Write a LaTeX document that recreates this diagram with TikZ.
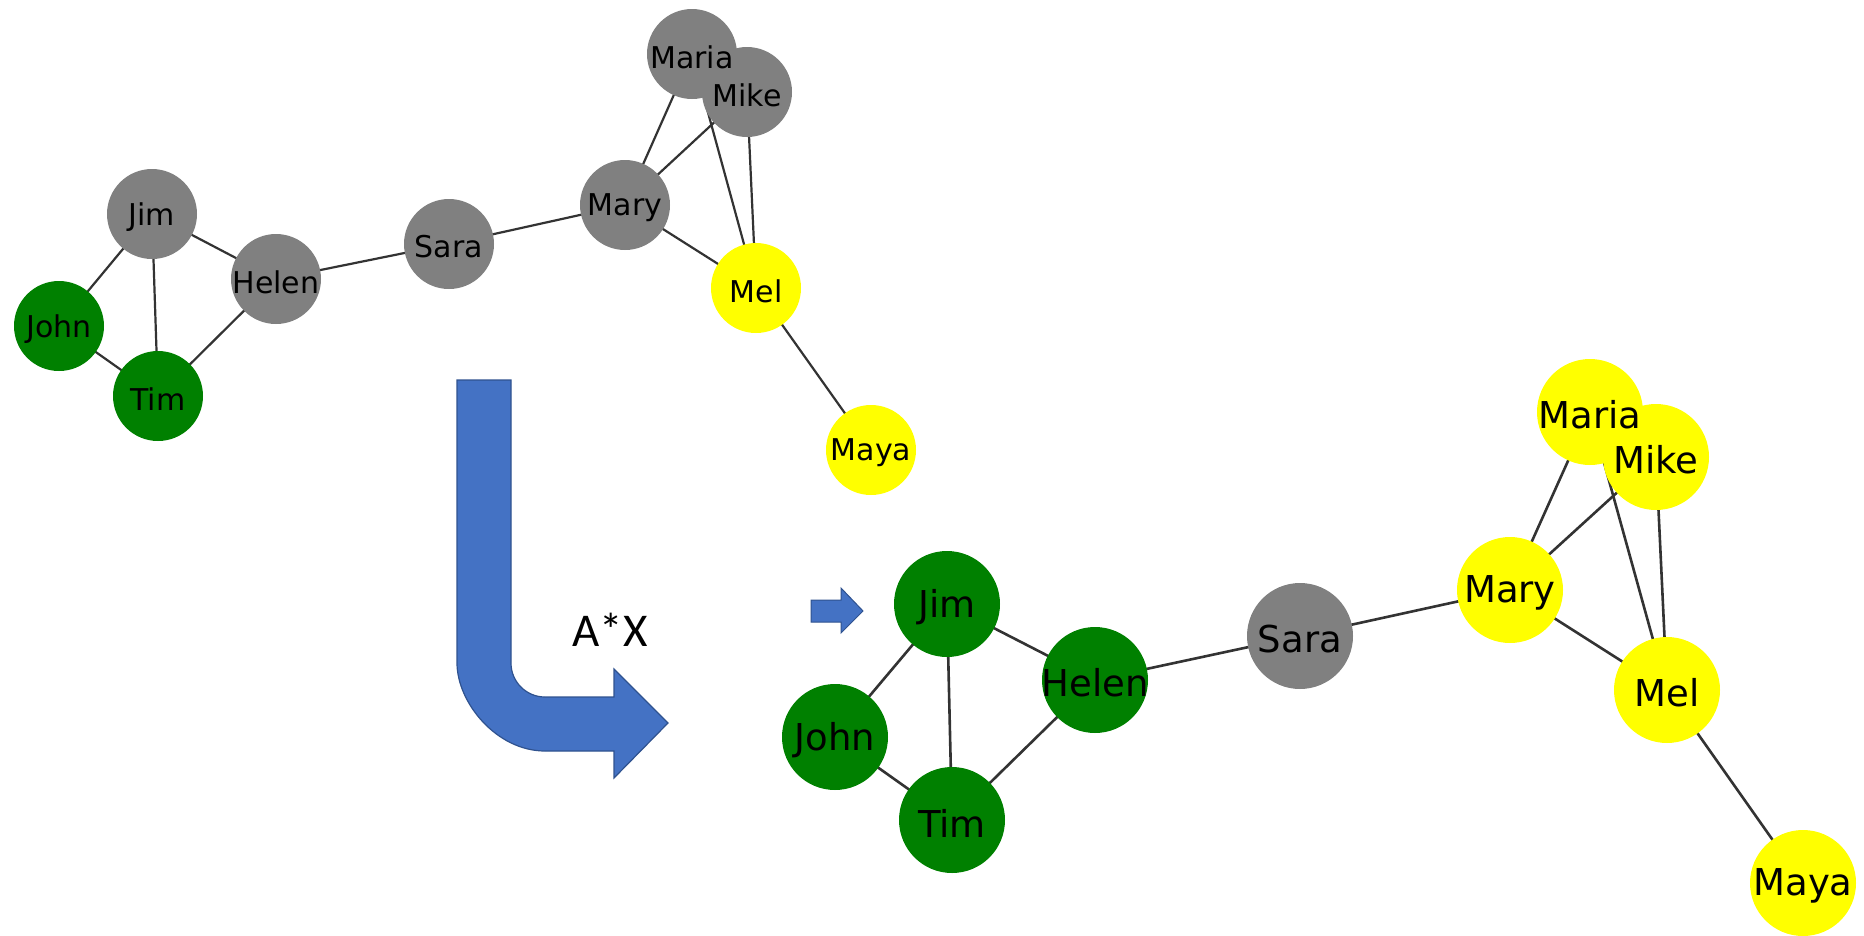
\documentclass[tikz,border=0pt]{standalone}
\usepackage{fontspec}
\newfontfamily\lblfont{DejaVu Sans}
\newfontfamily\calfont{Carlito}
\pgfdeclarelayer{edgelayer}
\pgfdeclarelayer{textlayer}
\pgfsetlayers{edgelayer,main,textlayer}
\definecolor{ngray}{HTML}{808080}
\definecolor{ngreen}{HTML}{008000}
\definecolor{nyellow}{HTML}{FFFF00}
\definecolor{arrowfill}{HTML}{4472C4}
\definecolor{arrowline}{HTML}{2F528F}
\definecolor{edgecol}{HTML}{333333}
\tikzset{
  vsmall/.style={circle, inner sep=0pt, minimum size=90pt},
  vlarge/.style={circle, inner sep=0pt, minimum size=106pt},
  gv/.style={fill=ngray}, gn/.style={fill=ngreen}, yl/.style={fill=nyellow},
  tsmall/.style={font=\lblfont\fontsize{30}{30}\selectfont, text=black, inner sep=0pt, yshift=-3pt},
  tlarge/.style={font=\lblfont\fontsize{37}{37}\selectfont, text=black, inner sep=0pt, yshift=-3pt},
  esmall/.style={draw=edgecol, line width=2.2pt},
  elarge/.style={draw=edgecol, line width=2.6pt},
  blockarrow/.style={fill=arrowfill, draw=arrowline, line width=1.2pt, line join=miter},
}
\begin{document}
\begin{tikzpicture}[x=1pt,y=-1pt]
\useasboundingbox (0,0) rectangle (1864,935);

% ---- first graph ----
\node[vsmall,gv] (jimA)   at (152,214) {};
\node[vsmall,gn] (johnA)  at (59,326) {};
\node[vsmall,gn] (timA)   at (158,396) {};
\node[vsmall,gv] (helenA) at (276,279) {};
\node[vsmall,gv] (saraA)  at (449,244) {};
\node[vsmall,gv] (maryA)  at (625,205) {};
\node[vsmall,gv] (mariaA) at (692,54) {};
\node[vsmall,gv] (mikeA)  at (747,92) {};
\node[vsmall,yl] (melA)   at (756,288) {};
\node[vsmall,yl] (mayaA)  at (871,450) {};

\begin{pgfonlayer}{edgelayer}
\foreach \a/\b in {jimA/johnA, jimA/timA, jimA/helenA, johnA/timA, timA/helenA,
                   helenA/saraA, saraA/maryA, maryA/mariaA, maryA/mikeA, maryA/melA,
                   mariaA/melA, mikeA/melA, melA/mayaA}
  \draw[esmall] (\a.center) -- (\b.center);
\end{pgfonlayer}

\begin{pgfonlayer}{textlayer}
\foreach \n/\t in {jimA/Jim, johnA/John, timA/Tim, helenA/Helen, saraA/Sara,
                   maryA/Mary, mariaA/Maria, mikeA/Mike, melA/Mel, mayaA/Maya}
  \node[tsmall] (\n-t) at (\n.center) {\t};
\end{pgfonlayer}

% ---- second graph ----
\node[vlarge,gn] (jimB)   at (947,604) {};
\node[vlarge,gn] (johnB)  at (835,737) {};
\node[vlarge,gn] (timB)   at (952,820) {};
\node[vlarge,gn] (helenB) at (1095,680) {};
\node[vlarge,gv] (saraB)  at (1300,636) {};
\node[vlarge,yl] (maryB)  at (1510,590) {};
\node[vlarge,yl] (mariaB) at (1590,412) {};
\node[vlarge,yl] (mikeB)  at (1656,457) {};
\node[vlarge,yl] (melB)   at (1667,690) {};
\node[vlarge,yl] (mayaB)  at (1803,883) {};

\begin{pgfonlayer}{edgelayer}
\foreach \a/\b in {jimB/johnB, jimB/timB, jimB/helenB, johnB/timB, timB/helenB,
                   helenB/saraB, saraB/maryB, maryB/mariaB, maryB/mikeB, maryB/melB,
                   mariaB/melB, mikeB/melB, melB/mayaB}
  \draw[elarge] (\a.center) -- (\b.center);
\end{pgfonlayer}

\begin{pgfonlayer}{textlayer}
\foreach \n/\t in {jimB/Jim, johnB/John, timB/Tim, helenB/Helen, saraB/Sara,
                   maryB/Mary, mariaB/Maria, mikeB/Mike, melB/Mel, mayaB/Maya}
  \node[tlarge] (\n-t) at (\n.center) {\t};
\end{pgfonlayer}

% ---- bent block arrow ----
\draw[blockarrow] (457,380) -- (511,380) -- (511,663)
  .. controls (511,681.8) and (526.2,697) .. (545,697)
  -- (614,697) -- (614,669) -- (668,723) -- (614,778) -- (614,751) -- (545,751)
  .. controls (496.4,751) and (457,702.4) .. (457,663) -- cycle;
\node[font=\calfont\fontsize{47}{47}\selectfont, anchor=base, inner sep=0pt] (op) at (610,646) {A*X};

% ---- small arrow ----
\draw[blockarrow, line width=1pt] (811,600) -- (841,600) -- (841,588) -- (863,611)
  -- (841,633) -- (841,622) -- (811,622) -- cycle;
\end{tikzpicture}
\end{document}
